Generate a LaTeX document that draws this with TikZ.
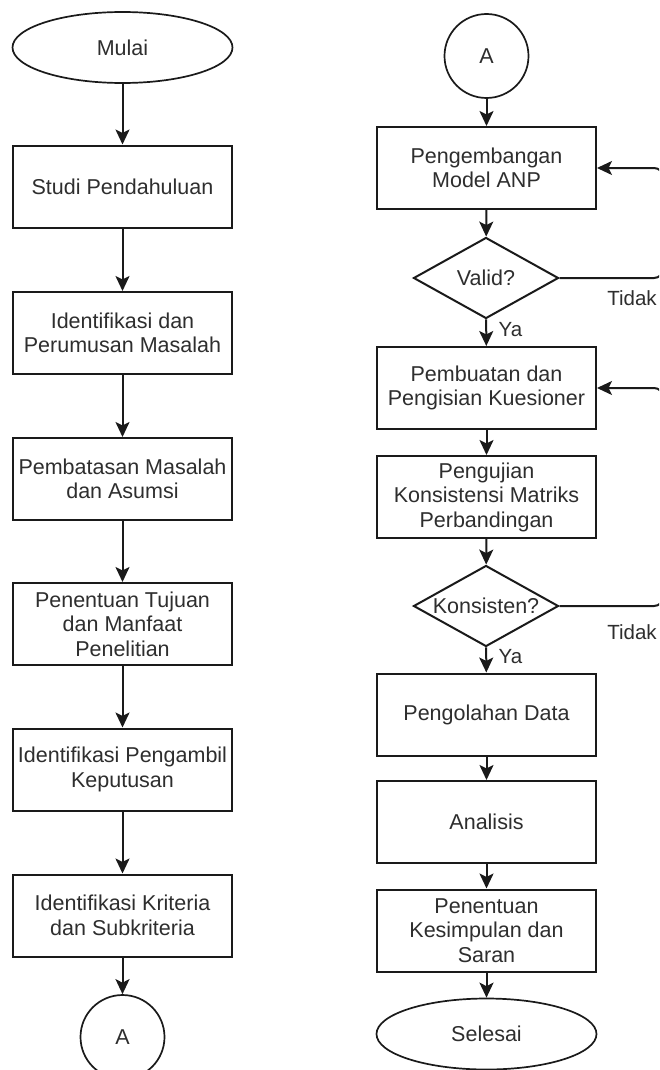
\documentclass[tikz,border=0pt]{standalone}
\usepackage{fontspec}
\setmainfont{Liberation Sans}
\usetikzlibrary{shapes.geometric,arrows.meta}
\definecolor{txt}{HTML}{2E2E2E}
\definecolor{ln}{HTML}{1A1A1A}
\begin{document}
\begin{tikzpicture}[x=1pt,y=-1pt,
  every node/.style={font=\fontsize{21.5}{24.5}\selectfont, text=txt, inner sep=0pt, align=center},
  procbox/.style={draw=ln, line width=2pt, rectangle, minimum width=219pt, minimum height=82pt},
  termbox/.style={draw=ln, line width=1.7pt, ellipse, minimum width=220pt, minimum height=71pt},
  conn/.style={draw=ln, line width=1.7pt, circle, minimum size=84pt},
  decbox/.style={draw=ln, line width=2pt, diamond, minimum width=145pt, minimum height=81pt},
  flow/.style={draw=ln, line width=2pt, -{Stealth[length=15pt,width=14pt,inset=3.5pt]}},
  lbl/.style={font=\fontsize{20.5}{24}\selectfont}
]
\useasboundingbox (0,0) rectangle (659,1070);
\clip (0,0) rectangle (659,1070);
\fill[white] (0,0) rectangle (659,1070);

% left column
\node[termbox] (mulai) at (122.5,47.5) {Mulai};
\node[procbox] (b1) at (122.5,186.5) {Studi Pendahuluan};
\node[procbox] (b2) at (122.5,333) {Identifikasi dan\\Perumusan Masalah};
\node[procbox] (b3) at (122.5,479) {Pembatasan Masalah\\dan Asumsi};
\node[procbox] (b4) at (122.5,624) {Penentuan Tujuan\\dan Manfaat\\Penelitian};
\node[procbox] (b5) at (122.5,769.5) {Identifikasi Pengambil\\Keputusan};
\node[procbox] (b6) at (122.5,915.5) {Identifikasi Kriteria\\dan Subkriteria};
\node[conn] (a1) at (122.5,1037) {A};

\draw[flow] (mulai) -- (b1);
\draw[flow] (b1) -- (b2);
\draw[flow] (b2) -- (b3);
\draw[flow] (b3) -- (b4);
\draw[flow] (b4) -- (b5);
\draw[flow] (b5) -- (b6);
\draw[flow] (b6) -- (a1);

% right column
\node[conn] (a2) at (486.5,56) {A};
\node[procbox] (r1) at (486.5,168) {Pengembangan\\Model ANP};
\node[decbox] (d1) at (486,278) {};
\node at (d1.center) {Valid?};
\node[procbox] (r2) at (486.5,388) {Pembuatan dan\\Pengisian Kuesioner};
\node[procbox] (r3) at (486.5,497) {Pengujian\\Konsistensi Matriks\\Perbandingan};
\node[decbox] (d2) at (486,606) {};
\node at (d2.center) {Konsisten?};
\node[procbox] (r4) at (486.5,714.5) {Pengolahan Data};
\node[procbox] (r5) at (486.5,822) {Analisis};
\node[procbox] (r6) at (486.5,930.5) {Penentuan\\Kesimpulan dan\\Saran};
\node[termbox] (selesai) at (486.5,1034) {Selesai};

\coordinate (t1a) at (663,278);
\coordinate (t1b) at (663,168);
\coordinate (t2a) at (663,606);
\coordinate (t2b) at (663,388);

\draw[flow] (a2) -- (r1);
\draw[flow] (r1) -- (d1);
\draw[flow] (d1) -- (r2);
\draw[flow] (r2) -- (r3);
\draw[flow] (r3) -- (d2);
\draw[flow] (d2) -- (r4);
\draw[flow] (r4) -- (r5);
\draw[flow] (r5) -- (r6);
\draw[flow] (r6) -- (selesai);

\draw[flow, rounded corners=9pt] (d1.east) -- (t1a) -- (t1b) -- (r1.east);
\draw[flow, rounded corners=9pt] (d2.east) -- (t2a) -- (t2b) -- (r2.east);

\node[lbl] (ya1) at (510.5,330) {Ya};
\node[lbl] (ya2) at (510.5,657) {Ya};
\node[lbl] (td1) at (632,298) {Tidak};
\node[lbl] (td2) at (632,632) {Tidak};
\end{tikzpicture}
\end{document}
